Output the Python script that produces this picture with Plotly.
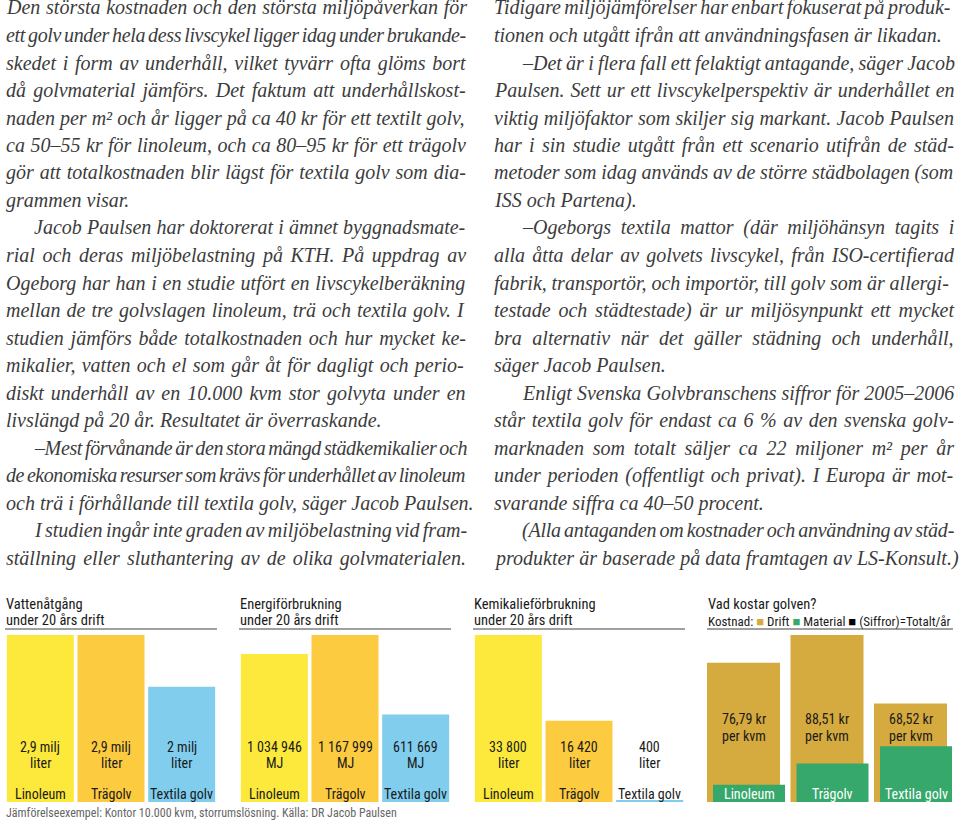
import plotly.graph_objects as go

# ---------------- data ----------------
categories = ["Linoleum", "Trägolv", "Textila golv"]

water_values = [2.9, 2.9, 2.0]                      # milj liter
water_labels = ["2,9 milj", "2,9 milj", "2 milj"]
water_units = ["liter", "liter", "liter"]

energy_values = [1034946, 1167999, 611669]          # MJ
energy_labels = ["1 034 946", "1 167 999", "611 669"]
energy_units = ["MJ", "MJ", "MJ"]

chem_values = [33800, 16420, 400]                   # liter
chem_labels = ["33 800", "16 420", "400"]
chem_units = ["liter", "liter", "liter"]

cost_drift = [65, 78, 46]                           # drift (kr/kvm)
cost_material = [8, 18, 26]                         # material (kr/kvm)
cost_labels = ["76,79 kr", "88,51 kr", "68,52 kr"]
cost_units = ["per kvm", "per kvm", "per kvm"]

chart_titles = [
    ("Vattenåtgång", "under 20 års drift"),
    ("Energiförbrukning", "under 20 års drift"),
    ("Kemikalieförbrukning", "under 20 års drift"),
    ("Vad kostar golven?", None),
]
footer = "Jämförelseexempel: Kontor 10.000 kvm, storrumslösning. Källa: DR Jacob Paulsen"

# article text: (line, paragraph_start, last_line_of_paragraph)
left_col = [
    ("Den största kostnaden och den största miljöpåverkan för", False, False),
    ("ett golv under hela dess livscykel ligger idag under brukande-", False, False),
    ("skedet i form av underhåll, vilket tyvärr ofta glöms bort", False, False),
    ("då golvmaterial jämförs. Det faktum att underhållskost-", False, False),
    ("naden per m² och år ligger på ca 40 kr för ett textilt golv,", False, False),
    ("ca 50–55 kr för linoleum, och ca 80–95 kr för ett trägolv", False, False),
    ("gör att totalkostnaden blir lägst för textila golv som dia-", False, False),
    ("grammen visar.", False, True),
    ("Jacob Paulsen har doktorerat i ämnet byggnadsmate-", True, False),
    ("rial och deras miljöbelastning på KTH. På uppdrag av", False, False),
    ("Ogeborg har han i en studie utfört en livscykelberäkning", False, False),
    ("mellan de tre golvslagen linoleum, trä och textila golv. I", False, False),
    ("studien jämförs både totalkostnaden och hur mycket ke-", False, False),
    ("mikalier, vatten och el som går åt för dagligt och perio-", False, False),
    ("diskt underhåll av en 10.000 kvm stor golvyta under en", False, False),
    ("livslängd på 20 år. Resultatet är överraskande.", False, True),
    ("–Mest förvånande är den stora mängd städkemikalier och", True, False),
    ("de ekonomiska resurser som krävs för underhållet av linoleum", False, False),
    ("och trä i förhållande till textila golv, säger Jacob Paulsen.", False, True),
    ("I studien ingår inte graden av miljöbelastning vid fram-", True, False),
    ("ställning eller sluthantering av de olika golvmaterialen.", False, False),
]
right_col = [
    ("Tidigare miljöjämförelser har enbart fokuserat på produk-", False, False),
    ("tionen och utgått ifrån att användningsfasen är likadan.", False, True),
    ("–Det är i flera fall ett felaktigt antagande, säger Jacob", True, False),
    ("Paulsen. Sett ur ett livscykelperspektiv är underhållet en", False, False),
    ("viktig miljöfaktor som skiljer sig markant. Jacob Paulsen", False, False),
    ("har i sin studie utgått från ett scenario utifrån de städ-", False, False),
    ("metoder som idag används av de större städbolagen (som", False, False),
    ("ISS och Partena).", False, True),
    ("–Ogeborgs textila mattor (där miljöhänsyn tagits i", True, False),
    ("alla åtta delar av golvets livscykel, från ISO-certifierad", False, False),
    ("fabrik, transportör, och importör, till golv som är allergi-", False, False),
    ("testade och städtestade) är ur miljösynpunkt ett mycket", False, False),
    ("bra alternativ när det gäller städning och underhåll,", False, False),
    ("säger Jacob Paulsen.", False, True),
    ("Enligt Svenska Golvbranschens siffror för 2005–2006", True, False),
    ("står textila golv för endast ca 6 % av den svenska golv-", False, False),
    ("marknaden som totalt säljer ca 22 miljoner m² per år", False, False),
    ("under perioden (offentligt och privat). I Europa är mot-", False, False),
    ("svarande siffra ca 40–50 procent.", False, True),
    ("(Alla antaganden om kostnader och användning av städ-", True, False),
    ("produkter är baserade på data framtagen av LS-Konsult.)", False, True),
]

# ---------------- styling ----------------
W, H = 960, 823
SERIF = "Liberation Serif, Times New Roman, serif"
SANS = "Liberation Sans Narrow, Arial Narrow, Roboto Condensed, Liberation Sans, Arial, sans-serif"
TXT = "#3c3c3c"
LBL = "#1a1a1a"
C_LINO, C_TRA, C_TEX = "#FCE93C", "#FDCB40", "#80CDEE"
C_DRIFT, C_MAT = "#D5AA3E", "#37A86B"
BAR_COLORS = [C_LINO, C_TRA, C_TEX]

def px(x):
    return x / W

def py(y):
    return 1 - y / H

# Times-Italic widths (per 1000 em) to justify article lines
TW = {' ': 250, '!': 333, '%': 833, '(': 333, ')': 333, ',': 250, '-': 333, '.': 250,
      ':': 333, ';': 333, '?': 500, '–': 500, '²': 300,
      'A': 611, 'B': 611, 'C': 667, 'D': 722, 'E': 611, 'F': 611, 'G': 722, 'H': 722,
      'I': 333, 'J': 444, 'K': 667, 'L': 556, 'M': 833, 'N': 667, 'O': 722, 'P': 611,
      'Q': 722, 'R': 611, 'S': 500, 'T': 556, 'U': 722, 'V': 611, 'W': 833, 'X': 611,
      'Y': 556, 'Z': 556,
      'a': 500, 'b': 500, 'c': 444, 'd': 500, 'e': 444, 'f': 278, 'g': 500, 'h': 500,
      'i': 278, 'j': 278, 'k': 444, 'l': 278, 'm': 722, 'n': 500, 'o': 500, 'p': 500,
      'q': 500, 'r': 389, 's': 389, 't': 278, 'u': 500, 'v': 444, 'w': 667, 'x': 444,
      'y': 444, 'z': 389}
for ch in "0123456789":
    TW[ch] = 500
ACC = {'å': 'a', 'ä': 'a', 'ö': 'o', 'Å': 'A', 'Ä': 'A', 'Ö': 'O', 'é': 'e'}

FS = 20

def twidth(s, size):
    return sum(TW.get(ACC.get(c, c), 500) for c in s) * size / 1000.0

annotations = []

def add_article(lines, left, right):
    for i, (s, indent, last) in enumerate(lines):
        x0 = left + (28 if indent else 0)
        yc = 8 + 27.5 * i
        style = "font-style:italic"
        if not last:
            target = right - x0
            nsp = s.count(" ")
            w = twidth(s, FS)
            sp = 0.25 * FS
            if nsp > 0:
                ws = (target - w) / nsp
                ls = 0.0
                minsp = 0.17 * FS
                if sp + ws < minsp:
                    ws = minsp - sp
                    ls = (target - w - nsp * ws) / len(s)
                style += ";word-spacing:%.2fpx;letter-spacing:%.2fpx" % (ws, ls)
        annotations.append(dict(
            x=px(x0), y=py(yc), xref="paper", yref="paper", xanchor="left", yanchor="middle",
            text='<span style="%s">%s</span>' % (style, s), showarrow=False,
            font=dict(family=SERIF, size=FS, color=TXT), borderpad=0))

add_article(left_col, 5, 465)
add_article(right_col, 493, 953)

# ---------------- figure ----------------
fig = go.Figure()

# chart panel geometry (pixels)
panels = [(5, 217), (239, 451), (473, 685), (701.75, 952.25)]
bar_bottom, bar_top = 802, 635
title_x = [5, 239, 473, 707]
rule_x = [(5, 217), (239, 451), (473, 685), (707, 953)]

series = [(water_values, water_labels, water_units),
          (energy_values, energy_labels, energy_units),
          (chem_values, chem_labels, chem_units)]

LF = dict(family=SANS, size=14, color=LBL)

for k, (vals, labs, units) in enumerate(series):
    ax = "" if k == 0 else str(k + 1)
    fig.add_trace(go.Bar(
        x=categories, y=vals, width=0.948, marker=dict(color=BAR_COLORS, line=dict(width=0)),
        xaxis="x" + ax, yaxis="y" + ax, hoverinfo="skip", showlegend=False))
    for i, c in enumerate(categories):
        annotations.append(dict(x=i, y=py(747), xref="x" + ax, yref="paper", text=labs[i],
                                showarrow=False, font=LF, yanchor="middle"))
        annotations.append(dict(x=i, y=py(763), xref="x" + ax, yref="paper", text=units[i],
                                showarrow=False, font=LF, yanchor="middle"))
        annotations.append(dict(x=i, y=py(794), xref="x" + ax, yref="paper", text=c,
                                showarrow=False, font=LF, yanchor="middle"))

# cost chart: drift + material bars, overlapped with offset
fig.add_trace(go.Bar(x=categories, y=cost_drift, width=0.874, offset=-0.437,
                     marker=dict(color=C_DRIFT, line=dict(width=0)),
                     xaxis="x4", yaxis="y4", hoverinfo="skip", showlegend=False))
fig.add_trace(go.Bar(x=categories, y=cost_material, width=0.862, offset=-0.365,
                     marker=dict(color=C_MAT, line=dict(width=0)),
                     xaxis="x4", yaxis="y4", hoverinfo="skip", showlegend=False))
for i, c in enumerate(categories):
    annotations.append(dict(x=i, y=py(719), xref="x4", yref="paper", text=cost_labels[i],
                            showarrow=False, font=LF, yanchor="middle"))
    annotations.append(dict(x=i, y=py(736), xref="x4", yref="paper", text=cost_units[i],
                            showarrow=False, font=LF, yanchor="middle"))
    annotations.append(dict(x=i + 0.066, y=py(794), xref="x4", yref="paper", text=c,
                            showarrow=False, font=dict(family=SANS, size=14, color="#ffffff"),
                            yanchor="middle"))

# chart titles
for k, (t1, t2) in enumerate(chart_titles):
    annotations.append(dict(x=px(title_x[k]), y=py(604), xref="paper", yref="paper", text=t1,
                            xanchor="left", yanchor="middle", showarrow=False, borderpad=0,
                            font=dict(family=SANS, size=14.5, color=LBL)))
    if t2:
        annotations.append(dict(x=px(title_x[k]), y=py(620.5), xref="paper", yref="paper", text=t2,
                                xanchor="left", yanchor="middle", showarrow=False, borderpad=0,
                                font=dict(family=SANS, size=14.5, color=LBL)))

legend_txt = ('Kostnad: <span style="color:%s">■</span> Drift <span style="color:%s">■</span> Material '
              '<span style="color:#000">■</span> (Siffror)=Totalt/år') % (C_DRIFT, C_MAT)
annotations.append(dict(x=px(707), y=py(621), xref="paper", yref="paper", text=legend_txt,
                        xanchor="left", yanchor="middle", showarrow=False, borderpad=0,
                        font=dict(family=SANS, size=13, color=LBL)))

annotations.append(dict(x=px(5), y=py(813), xref="paper", yref="paper", text=footer,
                        xanchor="left", yanchor="middle", showarrow=False, borderpad=0,
                        font=dict(family=SANS, size=12, color="#666666")))

shapes = [dict(type="line", xref="paper", yref="paper", x0=px(a), x1=px(b), y0=py(629), y1=py(629),
               line=dict(color="#808080", width=1.5)) for a, b in rule_x]

axis_common = dict(showgrid=False, zeroline=False, showticklabels=False, showline=False,
                   ticks="", fixedrange=True)
layout_axes = {}
ymaxes = [max(water_values), max(energy_values), max(chem_values), max(cost_drift)]
for k in range(4):
    sfx = "" if k == 0 else str(k + 1)
    a, b = panels[k]
    layout_axes["xaxis" + sfx] = dict(domain=[px(a), px(b)], range=[-0.5, 2.5],
                                      anchor="y" + sfx, type="category", **axis_common)
    layout_axes["yaxis" + sfx] = dict(domain=[py(bar_bottom), py(bar_top)], range=[0, ymaxes[k]],
                                      anchor="x" + sfx, **axis_common)

fig.update_layout(
    width=W, height=H, margin=dict(l=0, r=0, t=0, b=0),
    paper_bgcolor="white", plot_bgcolor="white",
    barmode="overlay", showlegend=False,
    annotations=annotations, shapes=shapes, **layout_axes)

fig.write_html("out.html", config={"displayModeBar": False},
               post_script="document.body.style.margin='0';document.body.style.padding='0';")
